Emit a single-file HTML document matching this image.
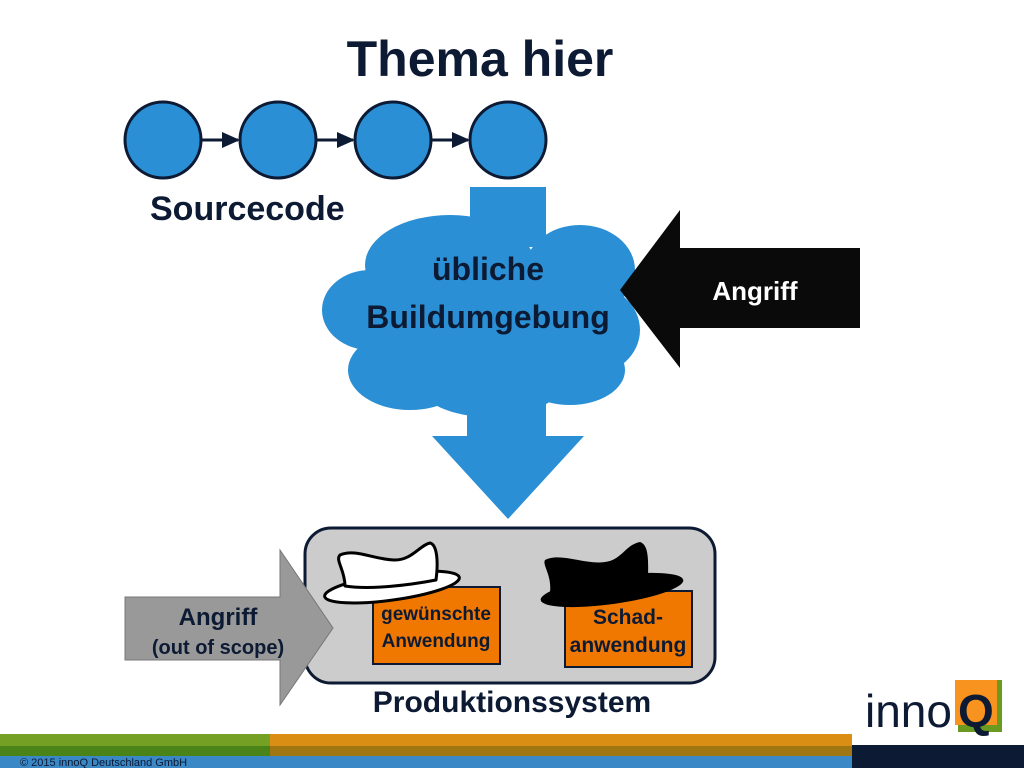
<!DOCTYPE html>
<html><head><meta charset="utf-8"><style>
html,body{margin:0;padding:0;background:#fff;}
svg{display:block;font-family:"Liberation Sans","DejaVu Sans",sans-serif;font-weight:bold;}
</style></head><body>
<svg width="1024" height="768" viewBox="0 0 1024 768" xmlns="http://www.w3.org/2000/svg">
<text x="480" y="76" text-anchor="middle" font-size="50" fill="#0d1a33">Thema hier</text>
<g fill="#2a8fd4" stroke="#0d1a33" stroke-width="3">
<circle cx="163" cy="140" r="38"/><circle cx="278" cy="140" r="38"/><circle cx="393" cy="140" r="38"/><circle cx="508" cy="140" r="38"/>
</g>
<g stroke="#0d1a33" stroke-width="3">
<line x1="201" y1="140" x2="238" y2="140"/><line x1="316" y1="140" x2="353" y2="140"/><line x1="431" y1="140" x2="468" y2="140"/>
</g>
<g fill="#0d1a33"><path d="M222,132 L240,140 L222,148Z"/><path d="M337,132 L355,140 L337,148Z"/><path d="M452,132 L470,140 L452,148Z"/></g>
<text x="150" y="220" font-size="34" fill="#0d1a33">Sourcecode</text>
<g fill="#2a8fd4">
<rect x="470" y="187" width="76" height="60"/>
<ellipse cx="450" cy="265" rx="85" ry="50"/>
<ellipse cx="580" cy="270" rx="55" ry="45"/>
<ellipse cx="370" cy="310" rx="48" ry="40"/>
<ellipse cx="590" cy="330" rx="50" ry="45"/>
<ellipse cx="480" cy="320" rx="130" ry="55"/>
<ellipse cx="410" cy="370" rx="62" ry="40"/>
<ellipse cx="490" cy="385" rx="70" ry="32"/>
<ellipse cx="570" cy="370" rx="55" ry="35"/>
<rect x="467" y="400" width="79" height="40"/>
<path d="M432,436 L584,436 L508,519Z"/>
</g>
<text x="488" y="280" text-anchor="middle" font-size="32" fill="#0d1a33">übliche</text>
<text x="488" y="328" text-anchor="middle" font-size="32" fill="#0d1a33">Buildumgebung</text>
<path d="M860,248 L680,248 L680,210 L620,290 L680,368 L680,328 L860,328Z" fill="#0a0a0a"/>
<text x="755" y="300" text-anchor="middle" font-size="26" fill="#fff">Angriff</text>
<rect x="305" y="528" width="410" height="155" rx="26" fill="#cccccc" stroke="#0d1a33" stroke-width="3"/>
<path d="M125,597 L280,597 L280,550 L333,628 L280,705 L280,660 L125,660Z" fill="#999" stroke="#777" stroke-width="1"/>
<text x="218" y="625" text-anchor="middle" font-size="24" fill="#0d1a33">Angriff</text>
<text x="218" y="654" text-anchor="middle" font-size="20" fill="#0d1a33">(out of scope)</text>
<rect x="373" y="587" width="127" height="77" fill="#f07800" stroke="#0d1a33" stroke-width="2"/>
<text x="436" y="620" text-anchor="middle" font-size="19" fill="#0d1a33">gewünschte</text>
<text x="436" y="647" text-anchor="middle" font-size="19" fill="#0d1a33">Anwendung</text>
<rect x="565" y="591" width="127" height="76" fill="#f07800" stroke="#0d1a33" stroke-width="2"/>
<text x="628" y="624" text-anchor="middle" font-size="21" fill="#0d1a33">Schad-</text>
<text x="628" y="652" text-anchor="middle" font-size="21" fill="#0d1a33">anwendung</text>
<!-- white hat -->
<g fill="#fff" stroke="#000" stroke-width="3" stroke-linejoin="round">
<ellipse cx="392" cy="587" rx="68" ry="13" transform="rotate(-8 392 587)"/>
<path d="M345,586 C345,570 335,560 340,555 C355,548 375,560 395,560 C412,560 420,545 430,543 C438,545 438,565 436,580 C410,585 370,590 345,586Z"/>
</g>
<!-- black hat -->
<g fill="#000">
<ellipse cx="612" cy="590" rx="72" ry="14" transform="rotate(-8 612 590)"/>
<path d="M550,592 C552,575 542,565 545,560 C560,552 585,565 605,562 C622,560 625,545 640,542 C650,545 648,565 648,582 C615,590 580,596 550,592Z"/>
</g>
<text x="512" y="712" text-anchor="middle" font-size="30" fill="#0d1a33">Produktionssystem</text>
<rect x="958" y="680" width="44" height="52" fill="#6a9a20"/>
<rect x="955" y="680" width="42" height="45" fill="#f7931e"/>
<text x="865" y="727" font-size="46" fill="#0d1a33" font-weight="normal">inno</text>
<text x="958" y="727" font-size="46" fill="#0d1a33">Q</text>
<rect x="0" y="734" width="270" height="12" fill="#74a024"/>
<rect x="0" y="746" width="270" height="10" fill="#4a8418"/>
<rect x="270" y="734" width="582" height="12" fill="#da8e14"/>
<rect x="270" y="746" width="582" height="10" fill="#a07612"/>
<rect x="0" y="756" width="852" height="12" fill="#3a88c6"/>
<rect x="852" y="745" width="172" height="23" fill="#0d1a33"/>
<text x="20" y="766" font-size="11" fill="#0d1a33" font-weight="normal">© 2015 innoQ Deutschland GmbH</text>
</svg>
</body></html>
